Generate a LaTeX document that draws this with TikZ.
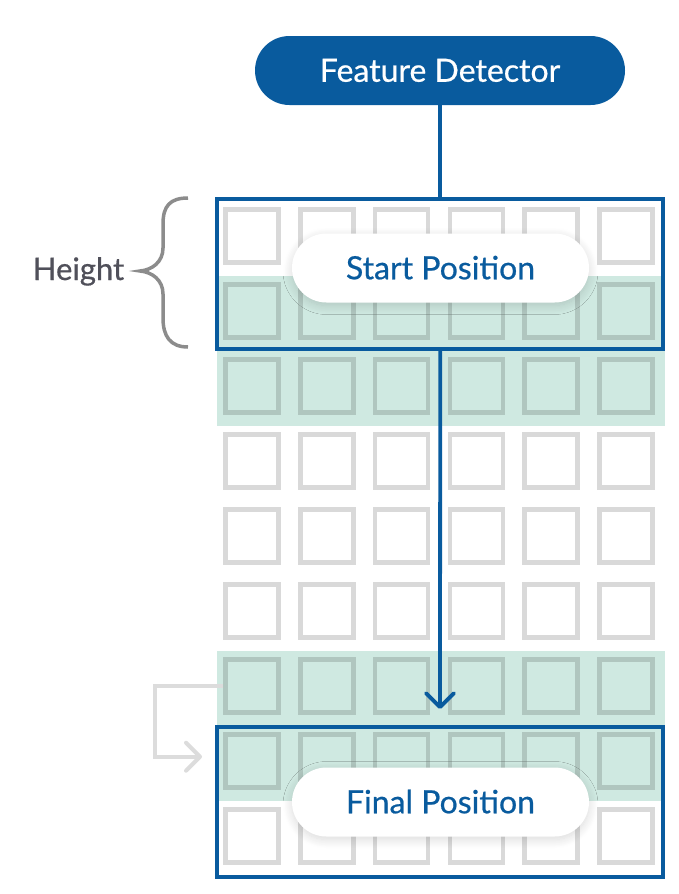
\documentclass[tikz,border=0pt]{standalone}
\usepackage{fontspec}
\setmainfont{Lato}[FakeBold=0.6]
\usetikzlibrary{arrows.meta,shapes.misc,shadows.blur}

\definecolor{fdblue}{RGB}{9,91,158}
\definecolor{bandgreen}{RGB}{207,233,225}
\definecolor{bracegray}{RGB}{140,140,140}
\definecolor{loopgray}{RGB}{220,220,220}
\definecolor{labelgray}{RGB}{80,80,90}

\tikzset{
  cellsq/.style={draw=black, draw opacity=0.15, line width=4.5pt, minimum size=53pt, inner sep=0pt},
  band/.style={fill=bandgreen},
  posbox/.style={draw=fdblue, line width=3.8pt, minimum width=446pt, minimum height=150pt, inner sep=0pt},
  pill/.style={rounded rectangle, minimum height=69pt, inner sep=0pt, text height=22.5pt, text depth=0pt, font=\fontsize{32}{38}\selectfont},
  softshadow/.style={blur shadow={shadow blur radius=9pt, shadow xshift=0pt, shadow yshift=-3pt, shadow opacity=15, shadow blur steps=14}},
  blueline/.style={draw=fdblue, line width=3.8pt},
  chev/.style={-{Straight Barb[length=14pt, width=28pt, round]}},
}

\begin{document}
\begin{tikzpicture}[x=1pt, y=-1pt]
\useasboundingbox (0,0) rectangle (679,894);

\fill[band] (216.5,276) rectangle (664.5,425.5);
\fill[band] (216.5,651) rectangle (664.5,800.5);

\foreach \r in {0,...,8}
  \foreach \c in {0,...,5}
    \node[cellsq] (sq-\r-\c) at ({252+74.8*\c},{236+75*\r}) {};

\node[posbox] (startbox) at (440.25,273.6) {};
\node[posbox] (finalbox) at (440.25,801.75) {};

\node[pill, fill=fdblue, text=white, minimum width=370pt] (detector) at (440,70.5) {Feature Detector};
\node[pill, fill=white, text=fdblue, minimum width=297pt, softshadow] (startpos) at (440.5,268) {Start Position};
\node[pill, fill=white, text=fdblue, minimum width=297pt, softshadow] (finalpos) at (440.5,802) {Final Position};

\draw[blueline] (detector.south) -- (detector.south |- startbox.north);
\coordinate (slidetip) at (440,709);
\draw[blueline, chev] (startbox.south) -- (slidetip);

\coordinate (loopend) at (202,756.7);
\draw[loopgray, line width=4pt, chev] (sq-6-0.west) -- ++(-68,0) |- (loopend);

\node[anchor=base, text=labelgray, font=\fontsize{31}{36}\selectfont] (height) at (78.5,280) {Height};
\draw[bracegray, line width=3.5pt] (188,198) .. controls (170,198) and (163,206) .. (163,224) -- (163,248)
  .. controls (163,262) and (152,270) .. (140,271) .. controls (152,272) and (163,280) .. (163,294)
  -- (163,318) .. controls (163,336) and (170,347) .. (188,347);

\end{tikzpicture}
\end{document}
